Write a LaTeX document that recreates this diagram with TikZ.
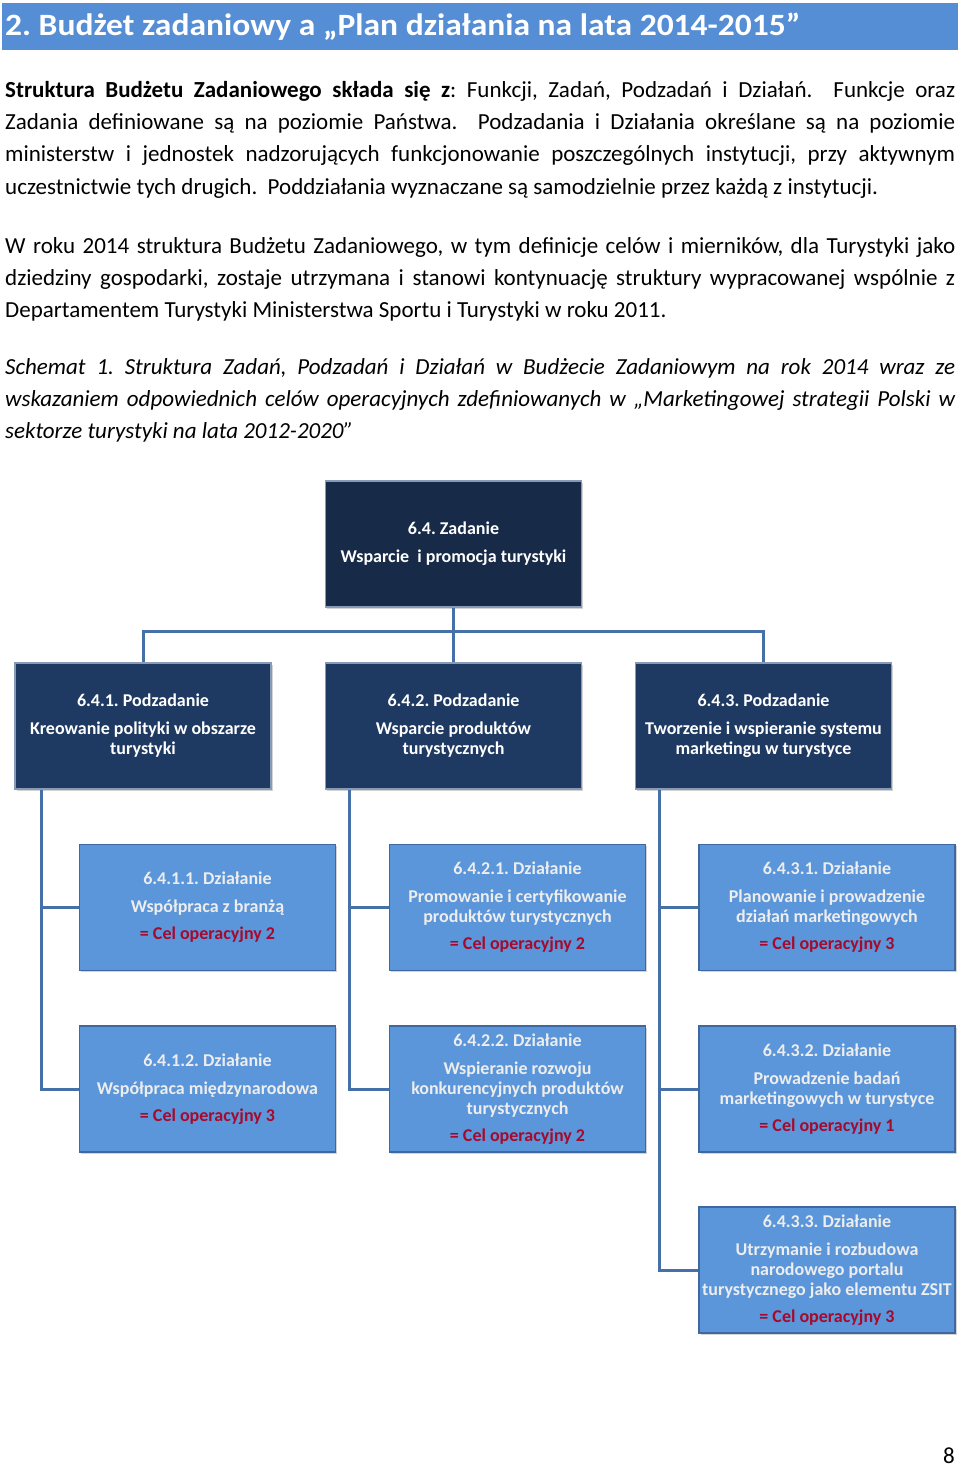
\documentclass[tikz,border=0pt]{standalone}
\usepackage{fontspec}
\setmainfont{Carlito}
\usetikzlibrary{positioning,shadows}
\definecolor{headblue}{RGB}{85,142,213}
\definecolor{navytop}{RGB}{23,43,72}
\definecolor{navysub}{RGB}{31,58,98}
\definecolor{navyedge}{RGB}{135,155,182}
\definecolor{actblue}{RGB}{91,150,218}
\definecolor{actedge}{RGB}{62,104,160}
\definecolor{linkblue}{RGB}{70,112,168}
\definecolor{celred}{RGB}{165,10,45}
\newcommand{\cel}[1]{\textcolor{celred}{= Cel operacyjny #1}}
\frenchspacing

\begin{document}
\begin{tikzpicture}[x=1pt, y=-1pt,
  box/.style={minimum width=256pt, minimum height=126pt, inner sep=0pt, align=center, line width=1.8pt,
    font=\fontsize{18}{20}\selectfont\bfseries, drop shadow={opacity=0.35, shadow xshift=1.5pt, shadow yshift=-1.5pt}},
  zadbox/.style={box, fill=navytop, draw=navyedge, text=white},
  podbox/.style={box, fill=navysub, draw=navyedge, text=white},
  dzbox/.style={box, fill=actblue, draw=actedge, text=white!93!black},
  link/.style={draw=linkblue, line width=3pt},
  txt/.style={anchor=base west, inner sep=0pt, text width=950pt, align=justify, font=\fontsize{23}{32.4}\selectfont}]
\useasboundingbox (0,0) rectangle (960,1467);

\fill[headblue] (2,3) rectangle (958,50);
\node[anchor=base west, inner sep=0pt, text=white, font=\fontsize{31}{31}\selectfont\bfseries] (tytul) at (5,35)
  {\resizebox{795pt}{\height}{2. Budżet zadaniowy a „Plan działania na lata 2014-2015”}};

\node[txt] (akapit1) at (5,97) {\textbf{Struktura Budżetu Zadaniowego składa się z}: Funkcji, Zadań, Podzadań i Działań. \ Funkcje oraz\linebreak
  Zadania definiowane są na poziomie Państwa. \ Podzadania i Działania określane są na poziomie\linebreak
  ministerstw i jednostek nadzorujących funkcjonowanie poszczególnych instytucji, przy aktywnym\linebreak
  uczestnictwie tych drugich. \ Poddziałania wyznaczane są samodzielnie przez każdą z instytucji.};
\node[txt] (akapit2) at (5,253) {W roku 2014 struktura Budżetu Zadaniowego, w tym definicje celów i mierników, dla Turystyki jako\linebreak
  dziedziny gospodarki, zostaje utrzymana i stanowi kontynuację struktury wypracowanej wspólnie z\linebreak
  Departamentem Turystyki Ministerstwa Sportu i Turystyki w roku 2011.};
\node[txt, font=\fontsize{23}{32.4}\selectfont\itshape] (podpis) at (5,374) {Schemat 1. Struktura Zadań, Podzadań i Działań w Budżecie Zadaniowym na rok 2014 wraz ze\linebreak
  wskazaniem odpowiednich celów operacyjnych zdefiniowanych w „Marketingowej strategii Polski w\linebreak
  sektorze turystyki na lata 2012-2020”};

% zadanie i podzadania
\node[zadbox] (zad) at (453.5,544) {6.4. Zadanie\\[8pt]Wsparcie \ i promocja turystyki};
\node[podbox] (pz1) at (143,726) {6.4.1. Podzadanie\\[8pt]Kreowanie polityki w obszarze\\turystyki};
\node[podbox] (pz2) at (453.5,726) {6.4.2. Podzadanie\\[8pt]Wsparcie produktów\\turystycznych};
\node[podbox] (pz3) at (763.5,726) {6.4.3. Podzadanie\\[8pt]Tworzenie i wspieranie systemu\\marketingu w turystyce};

% dzialania
\node[dzbox] (d11) at (207.5,907.5) {6.4.1.1. Działanie\\[8pt]Współpraca z branżą\\[7pt]\cel{2}};
\node[dzbox] (d12) at (207.5,1089) {6.4.1.2. Działanie\\[8pt]Współpraca międzynarodowa\\[7pt]\cel{3}};
\node[dzbox] (d21) at (517.5,907.5) {6.4.2.1. Działanie\\[8pt]Promowanie i certyfikowanie\\produktów turystycznych\\[7pt]\cel{2}};
\node[dzbox] (d22) at (517.5,1089) {6.4.2.2. Działanie\\[8pt]Wspieranie rozwoju\\konkurencyjnych produktów\\turystycznych\\[7pt]\cel{2}};
\node[dzbox] (d31) at (827,907.5) {6.4.3.1. Działanie\\[8pt]Planowanie i prowadzenie\\działań marketingowych\\[7pt]\cel{3}};
\node[dzbox] (d32) at (827,1089) {6.4.3.2. Działanie\\[8pt]Prowadzenie badań\\marketingowych w turystyce\\[7pt]\cel{1}};
\node[dzbox] (d33) at (827,1270) {6.4.3.3. Działanie\\[8pt]Utrzymanie i rozbudowa\\narodowego portalu\\turystycznego jako elementu ZSIT\\[7pt]\cel{3}};

\foreach \p in {pz1,pz2,pz3} \draw[link] (zad.south) -- ++(0,24) -| (\p.north);
\foreach \d in {d11,d12} \draw[link] ([xshift=27pt]pz1.south west) |- (\d.west);
\foreach \d in {d21,d22} \draw[link] ([xshift=25pt]pz2.south west) |- (\d.west);
\foreach \d in {d31,d32,d33} \draw[link] ([xshift=25pt]pz3.south west) |- (\d.west);

\node[anchor=base east, inner sep=0pt, font=\fontsize{23}{23}\selectfont] (strona) at (955,1463) {8};
\end{tikzpicture}
\end{document}
